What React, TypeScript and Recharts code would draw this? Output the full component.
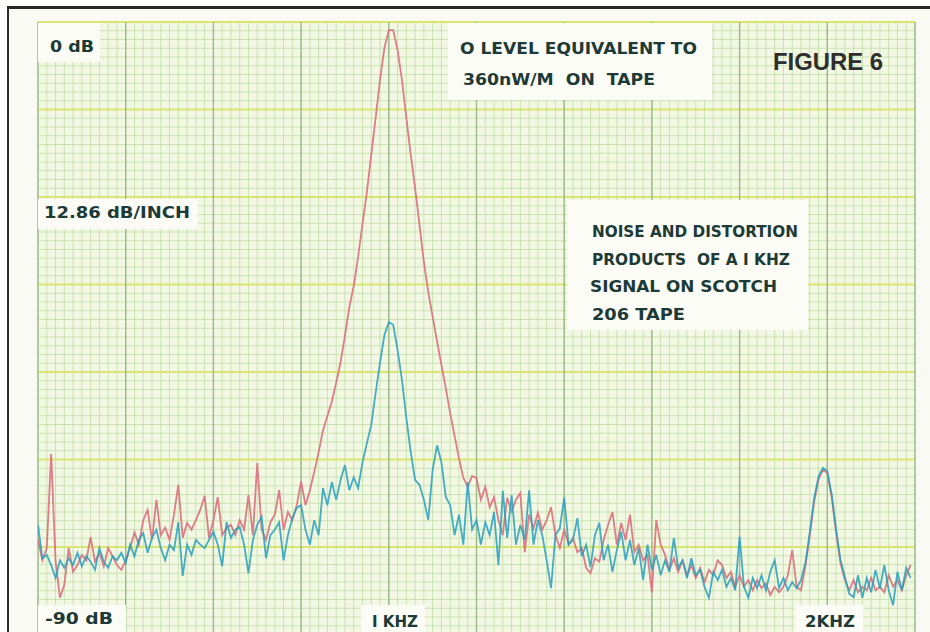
import React from "react";
import { LineChart, Line, XAxis, YAxis, CartesianGrid } from "recharts";

// Frequency sampling points (Hz)
const freqHz = [
  200, 210, 220, 230, 240, 250, 260, 270, 280, 290,
  300, 310, 320, 330, 340, 350, 360, 370, 380, 390,
  400, 410, 420, 430, 440, 450, 460, 470, 480, 490,
  500, 510, 520, 530, 540, 550, 560, 570, 580, 590,
  600, 610, 620, 630, 640, 650, 660, 670, 680, 690,
  700, 710, 720, 730, 740, 750, 760, 770, 780, 790,
  800, 810, 820, 830, 840, 850, 860, 870, 880, 890,
  900, 910, 920, 930, 940, 950, 960, 970, 980, 990,
  1000, 1010, 1020, 1030, 1040, 1050, 1060, 1070, 1080, 1090,
  1100, 1110, 1120, 1130, 1140, 1150, 1160, 1170, 1180, 1190,
  1200, 1210, 1220, 1230, 1240, 1250, 1260, 1270, 1280, 1290,
  1300, 1310, 1320, 1330, 1340, 1350, 1360, 1370, 1380, 1390,
  1400, 1410, 1420, 1430, 1440, 1450, 1460, 1470, 1480, 1490,
  1500, 1510, 1520, 1530, 1540, 1550, 1560, 1570, 1580, 1590,
  1600, 1610, 1620, 1630, 1640, 1650, 1660, 1670, 1680, 1690,
  1700, 1710, 1720, 1730, 1740, 1750, 1760, 1770, 1780, 1790,
  1800, 1810, 1820, 1830, 1840, 1850, 1860, 1870, 1880, 1890,
  1900, 1910, 1920, 1930, 1940, 1950, 1960, 1970, 1980, 1990,
  2000, 2010, 2020, 2030, 2040, 2050, 2060, 2070, 2080, 2090,
  2100, 2110, 2120, 2130, 2140, 2150, 2160, 2170, 2180, 2190,
  2200,
];

// Red trace (dB)
const redDb: (number | null)[] = [
  -76.1, -79.1, -77.3, -63.5, -79.1, -84.6, -82.7, -77.3, -80.8, -79.8,
  -78.3, -79.1, -75.7, -79.3, -78.0, -80.0, -77.3, -78.5, -79.8, -80.5,
  -79.1, -77.3, -75.0, -76.8, -73.2, -71.7, -76.1, -70.2, -75.4, -74.3,
  -76.1, -72.4, -68.0, -75.8, -73.6, -74.6, -73.2, -71.7, -69.6, -75.8,
  -73.2, -69.8, -75.4, -74.3, -73.9, -75.4, -73.2, -74.6, -69.5, -75.4,
  -64.8, -74.6, -76.1, -73.5, -72.4, -68.8, -74.6, -72.0, -73.2, -71.0,
  -67.5, -71.0, -68.8, -66.1, -63.2, -60.0, -57.9, -55.8, -53.0, -50.0,
  -46.1, -41.9, -38.8, -34.5, -29.7, -25.0, -19.5, -14.1, -8.5, -3.8,
  -1.2, -1.2, -4.1, -8.5, -14.1, -19.5, -24.4, -29.8, -35.3, -39.7,
  -43.3, -46.9, -50.4, -53.8, -57.5, -60.8, -64.1, -67.0, -68.3, -66.7,
  -67.0, -70.2, -68.3, -71.3, -69.8, -73.2, -75.4, -69.9, -71.9, -70.2,
  -69.2, -77.9, -72.4, -74.4, -72.1, -74.6, -73.2, -71.3, -75.4, -77.3,
  -74.6, -76.8, -75.8, -77.9, -77.3, -80.2, -81.0, -78.8, -79.3, -76.1,
  -73.9, -72.0, -76.8, -73.6, -76.1, -72.4, -77.9, -76.8, -79.1, -78.3,
  -83.8, -73.2, -76.8, -78.3, -80.5, -78.8, -80.8, -79.1, -81.3, -79.8,
  -81.7, -80.2, -82.3, -80.5, -81.3, -79.1, -79.8, -81.7, -80.8, -83.0,
  -81.3, -83.0, -82.0, -83.5, -82.0, -83.2, -82.5, -84.2, -83.0, -83.8,
  -83.0, -81.3, -77.6, -83.0, -83.5, -80.0, -75.5, -70.5, -67.2, -65.8,
  -66.3, -69.8, -75.0, -79.5, -82.0, -83.5, -82.0, -83.8, -83.0, -83.5,
  -81.7, -83.5, -83.0, -83.8, -81.3, -83.0, -82.0, -83.5, -81.3, -79.8,
  null,
];

// Blue trace (dB)
const blueDb: (number | null)[] = [
  -73.9, -78.8, -78.3, -79.8, -81.7, -79.1, -80.2, -78.8, -79.8, -78.0,
  -80.0, -78.5, -79.3, -80.5, -77.3, -79.3, -80.2, -78.5, -79.1, -78.0,
  -79.5, -76.8, -78.5, -76.1, -75.1, -78.0, -75.8, -74.6, -77.3, -79.1,
  -76.8, -77.6, -73.5, -81.4, -76.8, -78.3, -76.1, -76.8, -77.3, -76.1,
  -74.9, -76.8, -80.0, -73.5, -75.8, -74.6, -74.2, -76.8, -81.0, -76.1,
  -73.9, -72.7, -78.8, -75.4, -74.6, -73.5, -79.1, -75.4, -72.9, -71.4,
  -71.0, -74.6, -76.8, -73.2, -75.4, -68.5, -71.0, -67.6, -70.2, -67.3,
  -65.1, -68.8, -66.9, -68.5, -64.7, -61.9, -59.2, -54.5, -50.0, -46.0,
  -44.1, -44.5, -48.2, -52.6, -58.2, -63.2, -67.3, -68.0, -70.2, -73.2,
  -65.8, -62.2, -64.7, -69.8, -71.0, -75.4, -72.4, -76.8, -67.6, -74.6,
  -73.2, -76.8, -73.5, -75.4, -72.0, -79.8, -68.9, -75.8, -69.5, -76.8,
  -73.9, -76.1, -68.8, -76.8, -73.2, -75.4, -79.1, -83.2, -75.4, -74.4,
  -69.9, -76.8, -76.1, -72.9, -78.5, -76.8, -80.1, -75.4, -73.6, -79.1,
  -76.8, -80.8, -77.6, -74.9, -79.1, -76.1, -79.8, -77.3, -82.0, -76.8,
  -80.5, -78.3, -81.3, -79.1, -80.8, -75.8, -80.2, -79.1, -81.7, -78.8,
  -81.3, -80.5, -83.0, -84.6, -80.8, -82.0, -80.5, -83.0, -81.7, -83.5,
  -75.6, -83.0, -84.6, -81.7, -83.2, -81.3, -83.5, -80.8, -79.1, -83.2,
  -81.7, -83.5, -82.3, -83.2, -82.0, -79.5, -75.0, -70.0, -66.8, -65.5,
  -66.0, -69.4, -74.5, -79.0, -81.5, -84.0, -84.5, -81.3, -84.6, -81.7,
  -83.8, -80.5, -83.2, -79.8, -83.5, -85.7, -80.8, -83.5, -80.2, -81.7,
  null,
];

// Chart-paper scale: 12.86 dB per inch (major division), 10 minor per major
const dbRange = [-90, 0];
const hzRange = [200, 2200];
const majorHzStep = 200;
const minorHzStep = 20;
const majorDbStep = 90 / 7;
const minorDbStep = 90 / 70;

const majorHz = Array.from({ length: 11 }, (_, i) => hzRange[0] + i * majorHzStep);
const minorHz = Array.from({ length: 101 }, (_, i) => hzRange[0] + i * minorHzStep);
const majorDb = Array.from({ length: 8 }, (_, i) => -i * majorDbStep);
const minorDb = Array.from({ length: 71 }, (_, i) => -i * minorDbStep);

const data = freqHz.map((f, i) => ({ f, red: redDb[i], blue: blueDb[i] }));

const INK = "#1d3a36";
const BOX = "#fbfcf6";
const LETTER = "'DejaVu Sans', sans-serif";

export default function App() {
  return (
    <div
      style={{
        position: "fixed",
        left: 0,
        top: 0,
        width: 930,
        height: 632,
        overflow: "hidden",
        background: "#fdfdfb",
      }}
    >
      <div
        style={{
          position: "absolute",
          left: 7,
          top: 6,
          width: 940,
          height: 660,
          borderTop: "3px solid #262626",
          borderLeft: "2px solid #2b2b2b",
          background: "#f9faf4",
        }}
      />
      <div style={{ position: "absolute", left: 0, top: 0 }}>
        <LineChart
          width={930}
          height={645}
          data={data}
          margin={{ top: 22, right: 15, left: 38, bottom: 10.5 }}
        >
          <XAxis dataKey="f" type="number" domain={hzRange} hide allowDataOverflow interval={0} />
          <YAxis type="number" domain={dbRange} hide allowDataOverflow interval={0} />
          <CartesianGrid
            fill="#f3f8e5"
            stroke="#c9e3b0"
            strokeWidth={1}
            verticalValues={minorHz}
            horizontalValues={minorDb}
          />
          <CartesianGrid
            vertical={false}
            stroke="#dbe672"
            strokeWidth={2}
            horizontalValues={majorDb}
          />
          <CartesianGrid
            horizontal={false}
            stroke="#9cba8a"
            strokeWidth={1.4}
            verticalValues={majorHz}
          />
          <Line
            dataKey="red"
            type="linear"
            stroke="#dc6f7c"
            strokeWidth={1.8}
            strokeOpacity={0.9}
            dot={false}
            isAnimationActive={false}
          />
          <Line
            dataKey="blue"
            type="linear"
            stroke="#279fbe"
            strokeWidth={1.8}
            strokeOpacity={0.85}
            dot={false}
            isAnimationActive={false}
          />
        </LineChart>
      </div>
      <svg
        width={930}
        height={632}
        style={{ position: "absolute", left: 0, top: 0, pointerEvents: "none" }}
      >
        <g fill={BOX}>
          <rect x={38} y={23} width={62} height={39} />
          <rect x={38} y={199} width={160} height={30} />
          <rect x={448} y={23} width={264} height={77} />
          <rect x={567} y={200} width={241} height={130} />
          <rect x={38} y={605} width={88} height={30} />
          <rect x={361} y={605} width={64} height={30} />
          <rect x={795} y={605} width={68} height={30} />
        </g>
        <g fill={INK} fontFamily={LETTER} fontWeight="bold" fontSize={15.5}>
          <text x={50} y={52} textLength={44} lengthAdjust="spacingAndGlyphs">0 dB</text>
          <text x={44} y={218} textLength={146} lengthAdjust="spacingAndGlyphs">12.86 dB/INCH</text>
          <text x={460} y={54} textLength={237} lengthAdjust="spacingAndGlyphs">O LEVEL EQUIVALENT TO</text>
          <text x={463} y={85} textLength={192} lengthAdjust="spacingAndGlyphs" style={{ whiteSpace: "pre" }}>360nW/M  ON  TAPE</text>
          <text x={592} y={237} textLength={206} lengthAdjust="spacingAndGlyphs">NOISE AND DISTORTION</text>
          <text x={592} y={265} textLength={198} lengthAdjust="spacingAndGlyphs" style={{ whiteSpace: "pre" }}>PRODUCTS  OF A I KHZ</text>
          <text x={590} y={292} textLength={187} lengthAdjust="spacingAndGlyphs">SIGNAL ON SCOTCH</text>
          <text x={592} y={320} textLength={93} lengthAdjust="spacingAndGlyphs">206 TAPE</text>
          <text x={45} y={624} textLength={68} lengthAdjust="spacingAndGlyphs">-90 dB</text>
          <text x={372} y={627} textLength={46} lengthAdjust="spacingAndGlyphs">I KHZ</text>
          <text x={805} y={627} textLength={50} lengthAdjust="spacingAndGlyphs">2KHZ</text>
        </g>
        <text
          x={773}
          y={70}
          fill="#2e2e2e"
          fontFamily="'Liberation Sans', Arial, sans-serif"
          fontWeight="bold"
          fontSize={23}
          textLength={110}
          lengthAdjust="spacingAndGlyphs"
        >
          FIGURE 6
        </text>
      </svg>
    </div>
  );
}
